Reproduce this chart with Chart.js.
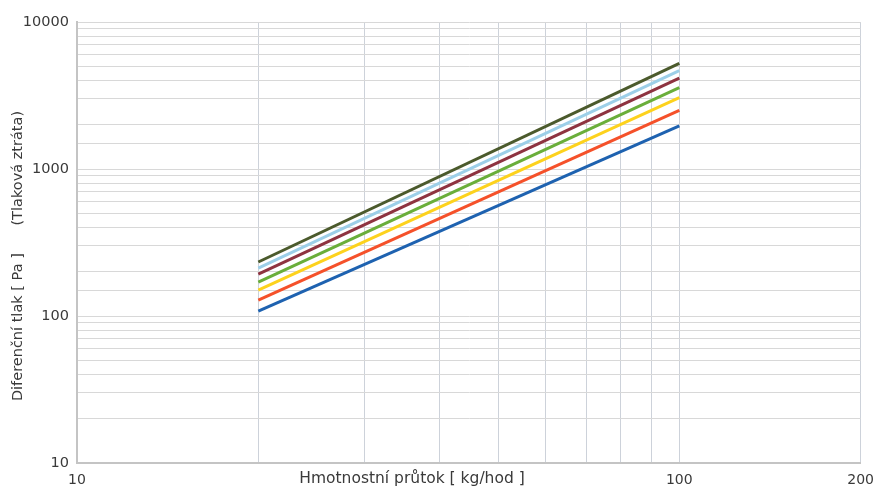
<!DOCTYPE html>
<html>
<head>
<meta charset="utf-8">
<script src="https://cdn.jsdelivr.net/npm/chart.js@4"></script>
<style>
  html, body { margin: 0; padding: 0; background: #fff; }
</style>
</head>
<body>
<canvas id="chart" width="883" height="491"></canvas>
<script>
// flow [kg/hod] at both ends of each line
const flow = [20, 100];

// pressure drop [Pa] for each curve
const curve1 = [108, 1965];
const curve2 = [128, 2506];
const curve3 = [150, 3055];
const curve4 = [170, 3574];
const curve5 = [193, 4145];
const curve6 = [212, 4667];
const curve7 = [233, 5236];

const xLabels = [10, 100, 200];
const yLabels = [10, 100, 1000, 10000];

const colors = ['#1e62b0', '#f5512a', '#fdd21d', '#6aae3a', '#8e3340', '#9ccfe8', '#4b5a2c'];
const curves = [curve1, curve2, curve3, curve4, curve5, curve6, curve7];

const FONT = 'DejaVu Sans';
const TEXT = '#3a3a3a';

const datasets = curves.map((c, i) => ({
  data: c.map((y, j) => ({ x: flow[j], y })),
  borderColor: colors[i],
  borderWidth: 3,
  pointRadius: 0,
  fill: false
}));

// axis titles sit on the tick row, so draw them by hand
const titles = {
  id: 'titles',
  afterDraw(chart) {
    const { ctx, chartArea } = chart;
    ctx.save();
    ctx.fillStyle = TEXT;
    ctx.textAlign = 'center';
    ctx.textBaseline = 'middle';
    ctx.font = '15.5px ' + FONT;
    ctx.fillText('Hmotnostní průtok [ kg/hod ]', 412, chartArea.bottom + 16);
    ctx.font = '14.5px ' + FONT;
    ctx.translate(18, 256);
    ctx.rotate(-Math.PI / 2);
    ctx.fillText('Diferenční tlak [ Pa ]      (Tlaková ztráta)', 0, 0);
    ctx.restore();
  }
};

new Chart(document.getElementById('chart'), {
  type: 'line',
  data: { datasets },
  plugins: [titles],
  options: {
    responsive: false,
    animation: false,
    layout: { padding: { top: 22, right: 21, left: 0, bottom: 0 } },
    plugins: { legend: { display: false }, tooltip: { enabled: false } },
    scales: {
      x: {
        type: 'logarithmic',
        min: 10,
        max: 200,
        afterFit: s => { s.height = 28; },
        border: { color: '#c4c4c4', width: 2 },
        grid: { color: '#cdd2da', drawTicks: false },
        ticks: {
          autoSkip: false,
          maxRotation: 0,
          padding: 9,
          color: TEXT,
          font: { family: FONT, size: 14 },
          // no grid line between 100 and 200
          callback: v => (v > 100 && v < 200 ? null : (xLabels.includes(v) ? String(v) : ''))
        }
      },
      y: {
        type: 'logarithmic',
        min: 10,
        max: 10000,
        afterFit: s => { s.width = 77; },
        border: { color: '#c4c4c4', width: 2 },
        grid: { color: '#d8d8d8', drawTicks: false },
        ticks: {
          autoSkip: false,
          padding: 8,
          color: TEXT,
          font: { family: FONT, size: 14.5 },
          callback: v => (yLabels.includes(v) ? String(v) : '')
        }
      }
    }
  }
});
</script>
</body>
</html>
